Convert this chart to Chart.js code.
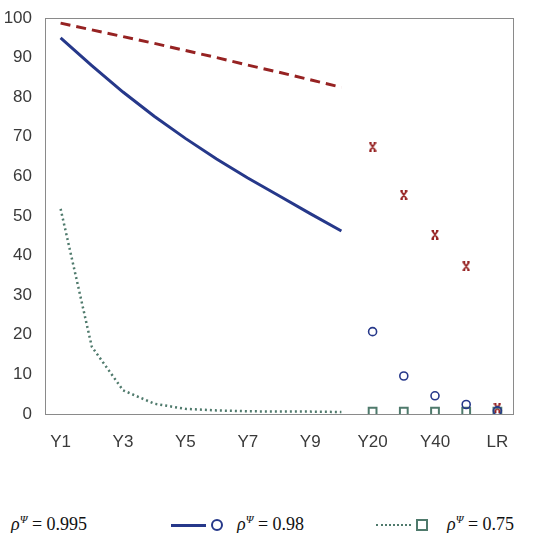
<!DOCTYPE html>
<html>
<head>
<meta charset="utf-8">
<script src="https://cdn.jsdelivr.net/npm/chart.js@4.4.1/dist/chart.umd.min.js"></script>
<style>
  html, body { margin:0; padding:0; background:#fff; }
  body { width:547px; height:533px; position:relative; overflow:hidden; }
  #wrap { position:absolute; left:0; top:0; width:547px; height:470px; }
  .lg { position:absolute; top:513px; height:22px; white-space:nowrap;
        font-family:"Liberation Serif","Times New Roman",serif; font-size:18px; color:#111; }
  .lg .txt { position:absolute; top:0px; }
  .lg sup { font-size:11px; }
  .lg .smp { position:absolute; top:11px; width:35px; height:0; }
  .lg .mk { position:absolute; }
</style>
</head>
<body>
<div id="wrap"><canvas id="c" width="547" height="470"></canvas></div>
<div id="legend"></div>
<script>
// categories and tick labels
const categories = ["Y1","Y2","Y3","Y4","Y5","Y6","Y7","Y8","Y9","Y10","Y20","Y30","Y40","Y50","LR"];
const tickLabels = ["Y1","Y3","Y5","Y7","Y9","Y20","Y40","LR"];

// rho = 0.995
const rho995Path = [98.7, 97.0, 95.3, 93.6, 91.8, 90.0, 88.1, 86.3, 84.4, 82.5];
const rho995Long = [67.5, 55.3, 45.3, 37.3, 1.6];
// rho = 0.98
const rho98Path = [95.0, 88.0, 81.3, 75.2, 69.6, 64.4, 59.6, 55.1, 50.6, 46.2];
const rho98Long = [20.8, 9.6, 4.6, 2.4, 0.8];
// rho = 0.75
const rho75Path = [51.8, 17.0, 6.0, 2.6, 1.3, 0.9, 0.7, 0.6, 0.6, 0.5];
const rho75Long = [0.6, 0.6, 0.6, 0.6, 0.6];

const RED = "#962222", BLUE = "#26388a", GREEN = "#4f7a6c";
const nPath = rho995Path.length;

// red marker: an x with small caps
function starMark(size){
  const cv = document.createElement("canvas");
  cv.width = size; cv.height = size + 2;
  const g = cv.getContext("2d");
  g.strokeStyle = RED; g.lineWidth = 1.8;
  g.beginPath();
  g.moveTo(1.5,1.5); g.lineTo(size-1.5,size+0.5);
  g.moveTo(size-1.5,1.5); g.lineTo(1.5,size+0.5);
  g.moveTo(0.5,1); g.lineTo(3,1); g.moveTo(size-3,1); g.lineTo(size-0.5,1);
  g.moveTo(0.5,size+1); g.lineTo(3,size+1); g.moveTo(size-3,size+1); g.lineTo(size-0.5,size+1);
  g.stroke();
  return cv;
}
const redMark = starMark(8);

function radii(r){ return categories.map((_, i) => i < nPath ? 0 : r); }
function hideJump(color){ return ctx => ctx.p0DataIndex >= nPath - 1 ? "rgba(0,0,0,0)" : color; }

const datasets = [
  { label:"0.995", data: rho995Path.concat(rho995Long), borderColor: RED, borderWidth: 3,
    borderDash:[10,6], pointStyle: redMark, pointRadius: radii(5), order: 3,
    segment:{ borderColor: hideJump(RED) } },
  { label:"0.98", data: rho98Path.concat(rho98Long), borderColor: BLUE, borderWidth: 3,
    pointStyle:"circle", pointRadius: radii(4), pointBorderWidth: 1.6,
    pointBackgroundColor:"rgba(0,0,0,0)", order: 1,
    segment:{ borderColor: hideJump(BLUE) } },
  { label:"0.75", data: rho75Path.concat(rho75Long), borderColor: GREEN, borderWidth: 2.5,
    borderDash:[2,3], pointStyle:"rect", pointRadius: radii(5.5), pointBorderWidth: 2,
    pointBackgroundColor:"rgba(0,0,0,0)", order: 2,
    segment:{ borderColor: hideJump(GREEN) } }
];

const frame = {
  id:"frame",
  beforeDatasetsDraw(chart){
    const a = chart.chartArea, g = chart.ctx;
    g.save();
    g.strokeStyle = "#8a8a8a"; g.lineWidth = 1;
    g.strokeRect(Math.round(a.left)+0.5, Math.round(a.top)+0.5,
                 Math.round(a.right-a.left), Math.round(a.bottom-a.top));
    g.restore();
  }
};

const tickFont = { family:"'Liberation Sans',Arial,sans-serif", size:17 };

new Chart(document.getElementById("c"), {
  type:"line",
  data:{ labels: categories, datasets: datasets },
  options:{
    responsive:false,
    animation:false,
    layout:{ padding:{ top:18, right:34, bottom:9, left:0 } },
    plugins:{ legend:{ display:false }, tooltip:{ enabled:false } },
    elements:{ line:{ tension:0 } },
    scales:{
      x:{
        offset:true,
        grid:{ display:false, drawTicks:false },
        border:{ display:true, color:"#8a8a8a" },
        ticks:{ autoSkip:false, maxRotation:0, padding:18, color:"#3a3a3a", font: tickFont,
          callback(v){ const l = categories[v]; return tickLabels.includes(l) ? l : ""; } },
        afterFit(s){ s.height = 47; }
      },
      y:{
        min:0, max:100,
        grid:{ display:false, drawTicks:false },
        border:{ display:true, color:"#8a8a8a" },
        ticks:{ stepSize:10, padding:13, color:"#3a3a3a", font: tickFont },
        afterFit(s){ s.width = 45; s.paddingTop = 2; s.paddingBottom = 2; }
      }
    }
  },
  plugins:[frame]
});

// legend along the bottom, partly cut off like the original
const legendPos = [ { smp:-58, txt:11 }, { smp:171, txt:237 }, { smp:376, txt:447 } ];
const legendEl = document.getElementById("legend");
datasets.forEach((d, i) => {
  const p = legendPos[i];
  const box = document.createElement("div");
  box.className = "lg"; box.style.left = "0px"; box.style.width = "700px";
  const line = document.createElement("div");
  line.className = "smp"; line.style.left = p.smp + "px";
  const style = i === 0 ? "dashed" : i === 1 ? "solid" : "dotted";
  line.style.borderTop = (i === 2 ? 2.5 : 3) + "px " + style + " " + d.borderColor;
  box.appendChild(line);
  const mk = document.createElement("div");
  mk.className = "mk";
  if (i === 0) {
    mk.style.left = (p.smp + 40) + "px"; mk.style.top = "5px";
    mk.appendChild(starMark(10));
  } else {
    mk.style.left = (p.smp + 40) + "px"; mk.style.top = "6px";
    mk.style.width = "8px"; mk.style.height = "8px";
    mk.style.border = "2.5px solid " + d.borderColor;
    if (i === 1) mk.style.borderRadius = "50%";
  }
  box.appendChild(mk);
  const t = document.createElement("span");
  t.className = "txt"; t.style.left = p.txt + "px";
  t.innerHTML = "<i>ρ</i><sup><i>Ψ</i></sup> = " + d.label;
  box.appendChild(t);
  legendEl.appendChild(box);
});
</script>
</body>
</html>
